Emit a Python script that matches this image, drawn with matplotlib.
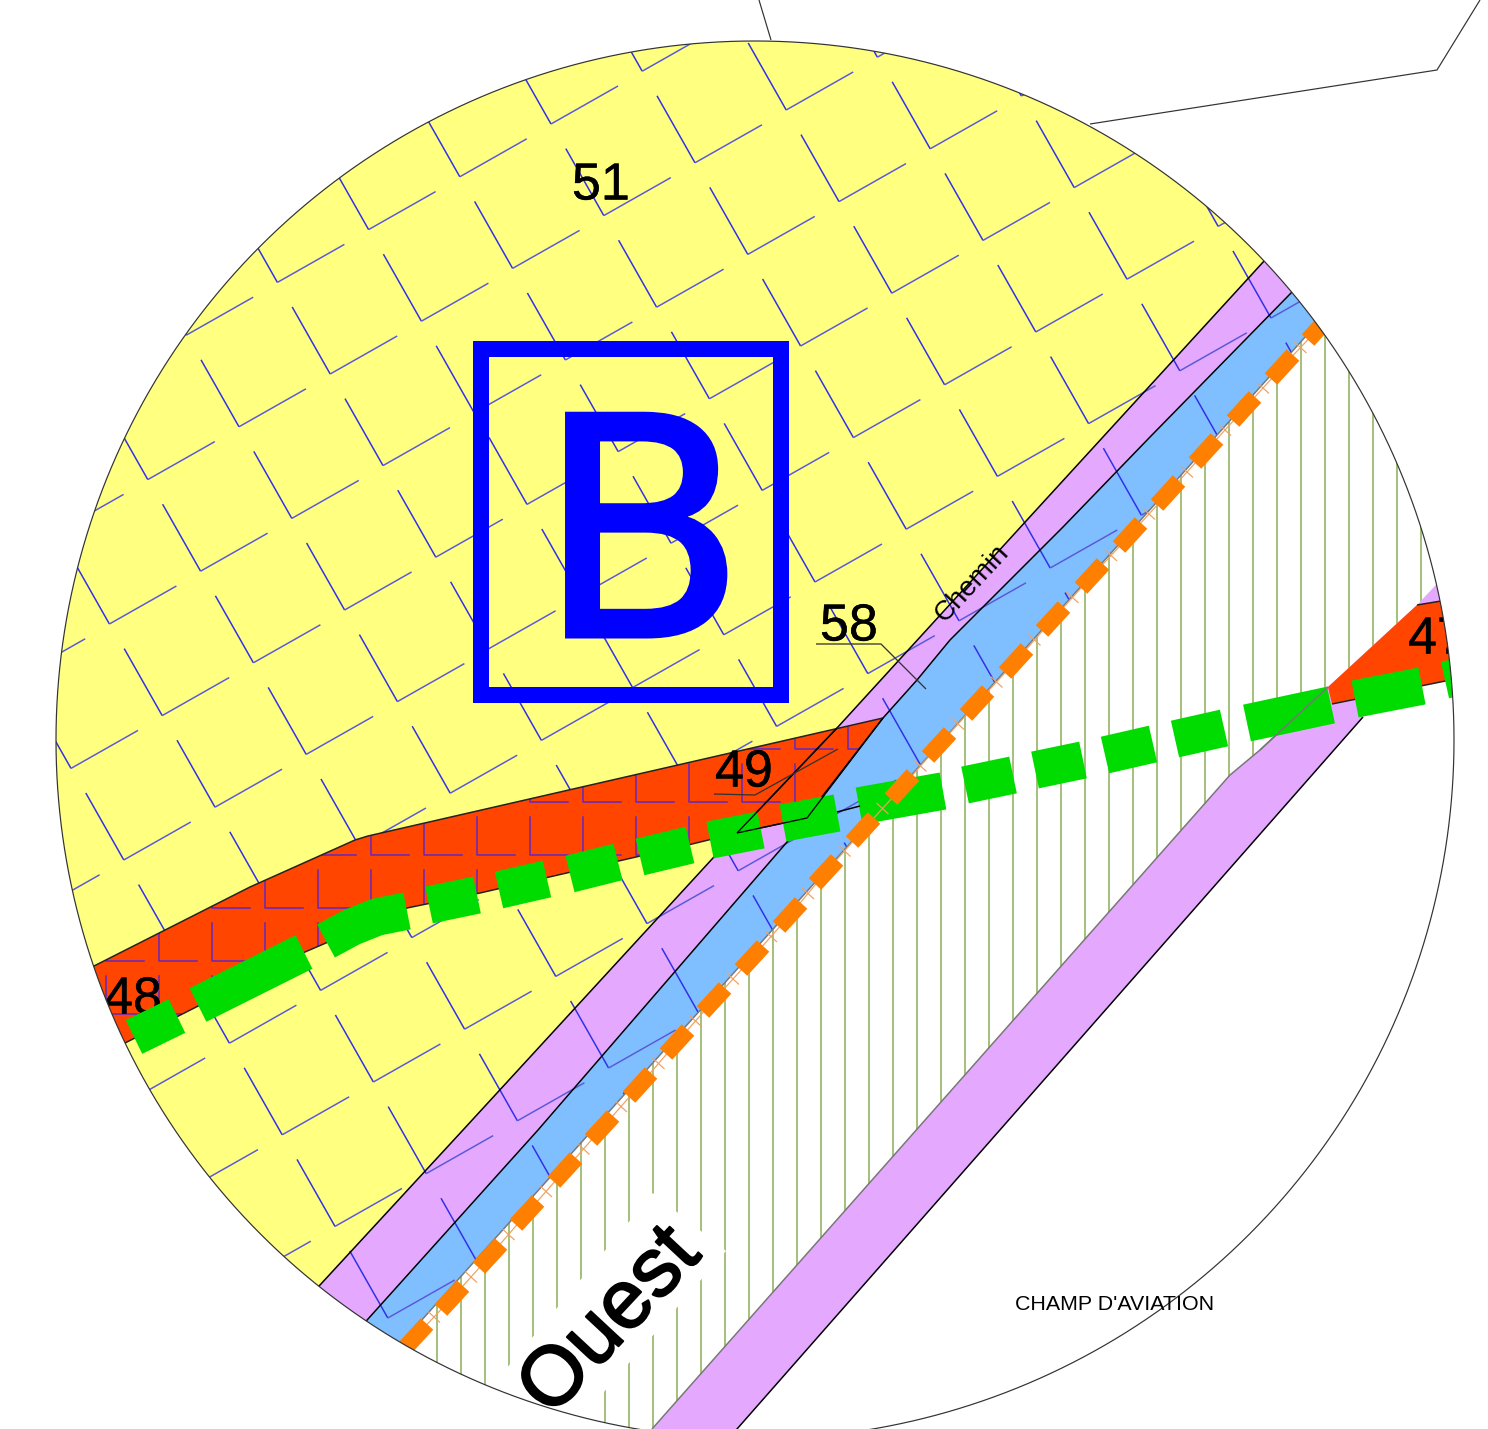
import numpy as np
import matplotlib.pyplot as plt
import matplotlib.patheffects as pe
from matplotlib.path import Path
from matplotlib.patches import PathPatch, Polygon, Rectangle

plt.rcParams['font.family'] = ['Liberation Sans', 'DejaVu Sans']

# Map geometry (pixel units, y down)
circle_center = (755, 740)
circle_radius = 699

yellow_edge = [(1285, 238), (1265, 260), (1027, 520), (837, 728), (713, 858), (463, 1130), (320, 1285), (300, 1307)]
blue_edge = [(1310, 272), (1292, 292), (1150, 437), (1063, 527), (983, 607), (950, 640), (917, 680), (883, 718),
             (787, 842), (538, 1130), (368, 1319), (348, 1341)]
orange_edge = [(1345, 297), (1315, 326), (402, 1342), (385, 1361)]

red_top = [(70, 978), (94, 966), (250, 887), (355, 840), (368, 836), (883, 718)]
red_bottom = [(807, 818), (737, 833), (688, 845), (480, 893), (407, 908), (305, 952), (127, 1042), (100, 1056)]
red_east_top = [(1328, 687), (1417, 605), (1441, 601), (1470, 597)]
red_east_bottom = [(1470, 676), (1332, 704)]

purple2_upper = [(1450, 570), (1417, 605), (1328, 687), (1260, 750), (1230, 775), (652, 1429), (630, 1455)]
purple2_lower = [(716, 1455), (737, 1429), (1363, 717), (1385, 692), (1450, 650)]

hatch_x = [437, 461, 485, 509, 533, 557, 581, 605, 629, 653, 677, 701, 725, 749, 773, 797, 821, 845, 869, 893, 917,
           941, 965, 989, 1013, 1037, 1061, 1085, 1109, 1133, 1157, 1181, 1205, 1229, 1253, 1277, 1301, 1325, 1349,
           1373, 1397, 1421]
ouest_mask = [(653, 1193), (726, 1251), (545, 1460), (430, 1460)]

# green dashes: start and end of each one
green_start = [(134, 1037), (198, 1005), (429, 905), (499, 890), (570, 874), (640, 857), (710, 840), (783, 823),
               (859, 806), (965, 785), (1035, 770), (1105, 755), (1175, 739), (1247, 723), (1355, 699), (1445, 680)]
green_end = [(177, 1016), (304, 952), (477, 895), (547, 879), (618, 862), (690, 845), (761, 830), (837, 813),
             (943, 791), (1013, 775), (1083, 760), (1153, 744), (1224, 728), (1331, 705), (1422, 686), (1490, 670)]
green_curve = [(326, 941), (352, 927), (377, 917), (407, 911)]

# orange dashes: centers
orange_x = [416, 452, 490, 527, 565, 602, 640, 677, 714, 752, 790, 826, 863, 902, 939, 977, 1016, 1053, 1092, 1130,
            1168, 1206, 1244, 1282, 1319]
orange_y = [1336, 1298, 1256, 1213, 1170, 1128, 1085, 1042, 1000, 958, 915, 872, 830, 787, 745, 703, 661, 619, 576,
            535, 493, 451, 409, 367, 328]

leader_58 = [(816, 644), (881, 644), (926, 689)]
leader_49 = [(714, 794), (755, 795), (838, 749)]
road_a = [(737, 833), (837, 728)]
road_b = [(737, 833), (807, 818), (883, 718)]
road_c = [(837, 812), (860, 806)]
outside_a = [(759, 0), (771, 40)]
outside_b = [(1090, 124), (1437, 70), (1480, 0)]

labels = ['51', '58', '49', '48', '47']
labels_x = [601, 849, 744, 133, 1435]
labels_y = [186, 627, 773, 1000, 640]

YELLOW = '#FFFF80'
RED = '#FF4500'
PURPLE = '#E5A8FF'
BLUE = '#80BFFF'
GREEN = '#00DC00'
ORANGE = '#FF8000'
HATCH = '#9DBB70'
INK = '#0000FF'
px = 0.72  # one pixel in points at dpi 100

fig = plt.figure(figsize=(14.88, 14.29), dpi=100)
ax = fig.add_axes([0, 0, 1, 1])
ax.set_xlim(0, 1488)
ax.set_ylim(1429, 0)
ax.axis('off')


def line(pts, color='black', lw=1.5, z=5, cap='butt'):
    pts = np.array(pts)
    ax.plot(pts[:, 0], pts[:, 1], color=color, lw=lw * px, zorder=z, solid_capstyle=cap)


# Areas
ax.add_patch(Polygon(yellow_edge + [(0, 1307), (0, 0), (1285, 0)], fc=YELLOW, ec='none', zorder=1))
ax.add_patch(Polygon(yellow_edge + blue_edge[::-1], fc=PURPLE, ec='none', zorder=1))
ax.add_patch(Polygon(blue_edge + orange_edge[::-1], fc=BLUE, ec='none', zorder=1))

# Rotated L pattern over yellow, purple and blue
a = np.array([52.8, 91.6])
b = np.array([91.2, -52.8])
p0 = np.array([815, 582])
for i in range(-10, 11):
    for j in range(-12, 13):
        p = p0 + i * a + j * b
        line([p + (-38, -67), p], color='#3030E8', lw=1.5, z=2)
        line([p, p + (67, -38)], color='#5A5AD8', lw=1.5, z=2)

# White side with the vertical hatch
white = Polygon(orange_edge + [(0, 1500), (1500, 1500), (1500, 297)], fc='white', ec='none', zorder=3)
ax.add_patch(white)
for x in hatch_x:
    ln, = ax.plot([x, x], [0, 1500], color=HATCH, lw=1.8 * px, zorder=3.1)
    ln.set_clip_path(white)
ax.add_patch(Polygon(ouest_mask, fc='white', ec='none', zorder=3.2))
ax.add_patch(Polygon([(700, 1440), (1340, 700), (1500, 640), (1500, 1500), (700, 1500)], fc='white', ec='none', zorder=3.2))
ax.add_patch(Polygon(purple2_upper + purple2_lower, fc=PURPLE, ec='none', zorder=3.3))

# Red bands
red = Polygon(red_top + red_bottom, fc=RED, ec='none', zorder=4)
ax.add_patch(red)
ax.add_patch(Polygon(red_east_top + red_east_bottom, fc=RED, ec='none', zorder=4))
for cx in np.arange(0, 30) * 53 - 265:
    for cy in 961 + np.arange(-6, 4) * 53:
        ln, = ax.plot([cx, cx, cx + 38], [cy - 38, cy, cy], color='#5A28C8', lw=1.5 * px, zorder=4.1)
        ln.set_clip_path(red)

# Outlines
line(yellow_edge, z=5)
line(blue_edge, z=5)
line(orange_edge, color='#777777', z=5)
line(red_top, color='#222222', z=5)
line(red_bottom, color='#222222', z=5)
line(purple2_lower[:3], z=5)
line(purple2_upper[2:-1], color='#777777', z=5)
line(red_east_top[1:], color='#222222', z=5)
line(red_east_bottom, color='#222222', z=5)

# Labels under the green dashes
heavy = [pe.withStroke(linewidth=0.4 * px, foreground='black')]
for s, x, y in zip(labels, labels_x, labels_y):
    ha = 'left' if s == '47' else 'center'
    ax.text(x - 27 if s == '47' else x, y, s, fontsize=37.5, ha=ha, va='center', color='black', zorder=5.5,
            path_effects=heavy)

# Green dashes
for p, q in zip(green_start, green_end):
    line([p, q], color=GREEN, lw=37.5, z=6)
line(green_curve, color=GREEN, lw=37.5, z=6)

# Road lines over the green
line(road_a, lw=1.3, z=6.5)
line(road_b, lw=1.3, z=6.5)
line(road_c, lw=1.5, z=6.5)
line(purple2_upper[2:4], color='#777777', z=6.5)

# Orange line: thin line, ticks between dashes, thick dashes
ox = np.array(orange_x, dtype=float)
oy = np.array(orange_y, dtype=float)
line(np.column_stack([ox, oy]), color='#F0A060', lw=1.2, z=6.8)
for k in range(len(ox) - 1):
    mx, my = (ox[k] + ox[k + 1]) / 2, (oy[k] + oy[k + 1]) / 2
    line([(mx - 6, my - 5.5), (mx + 6, my + 5.5)], color='#F0A060', lw=1.2, z=6.8)
for x, y in zip(ox, oy):
    line([(x - 11, y + 12), (x + 11, y - 12)], color=ORANGE, lw=17, z=7)

# Zone box
ax.add_patch(Rectangle((481.3, 349), 300, 346, fc='none', ec=INK, lw=16 * px, joinstyle='miter', zorder=7))
ax.text(642, 636, 'B', fontsize=219, family='DejaVu Sans', ha='center', va='baseline', color=INK, zorder=7,
        path_effects=[pe.withStroke(linewidth=5 * px, foreground=INK, joinstyle='miter')])

line(leader_58, color='#333333', lw=1.3, z=7.5)
line(leader_49, color='#333333', lw=1.3, z=7.5)

ax.text(972, 583, 'Chemin', fontsize=20, rotation=47, rotation_mode='anchor', ha='center', va='center', zorder=8)
ax.text(611, 1322, 'Ouest', fontsize=60, rotation=47, rotation_mode='anchor', ha='center', va='center', zorder=8,
        path_effects=[pe.withStroke(linewidth=2 * px, foreground='black')])

# White outside of the circle
theta = np.linspace(0, 2 * np.pi, 721)
circle = np.column_stack([circle_center[0] + circle_radius * np.cos(theta),
                          circle_center[1] + circle_radius * np.sin(theta)])
outer = [(-10, -10), (1498, -10), (1498, 1439), (-10, 1439), (-10, -10)]
verts = outer + [tuple(v) for v in circle[::-1]]
codes = [Path.MOVETO] + [Path.LINETO] * 3 + [Path.CLOSEPOLY] + [Path.MOVETO] + [Path.LINETO] * (len(circle) - 1)
ax.add_patch(PathPatch(Path(verts, codes), fc='white', ec='none', zorder=9))
line(circle, color='#333333', lw=1.2, z=10)
line(outside_a, color='#333333', lw=1.2, z=10)
line(outside_b, color='#333333', lw=1.2, z=10)

ax.text(1115, 1304, "CHAMP D'AVIATION", fontsize=15.4, ha='center', va='center', zorder=11)

ax.set_xlim(0, 1488)
ax.set_ylim(1429, 0)
plt.savefig('out.png', dpi=100)
